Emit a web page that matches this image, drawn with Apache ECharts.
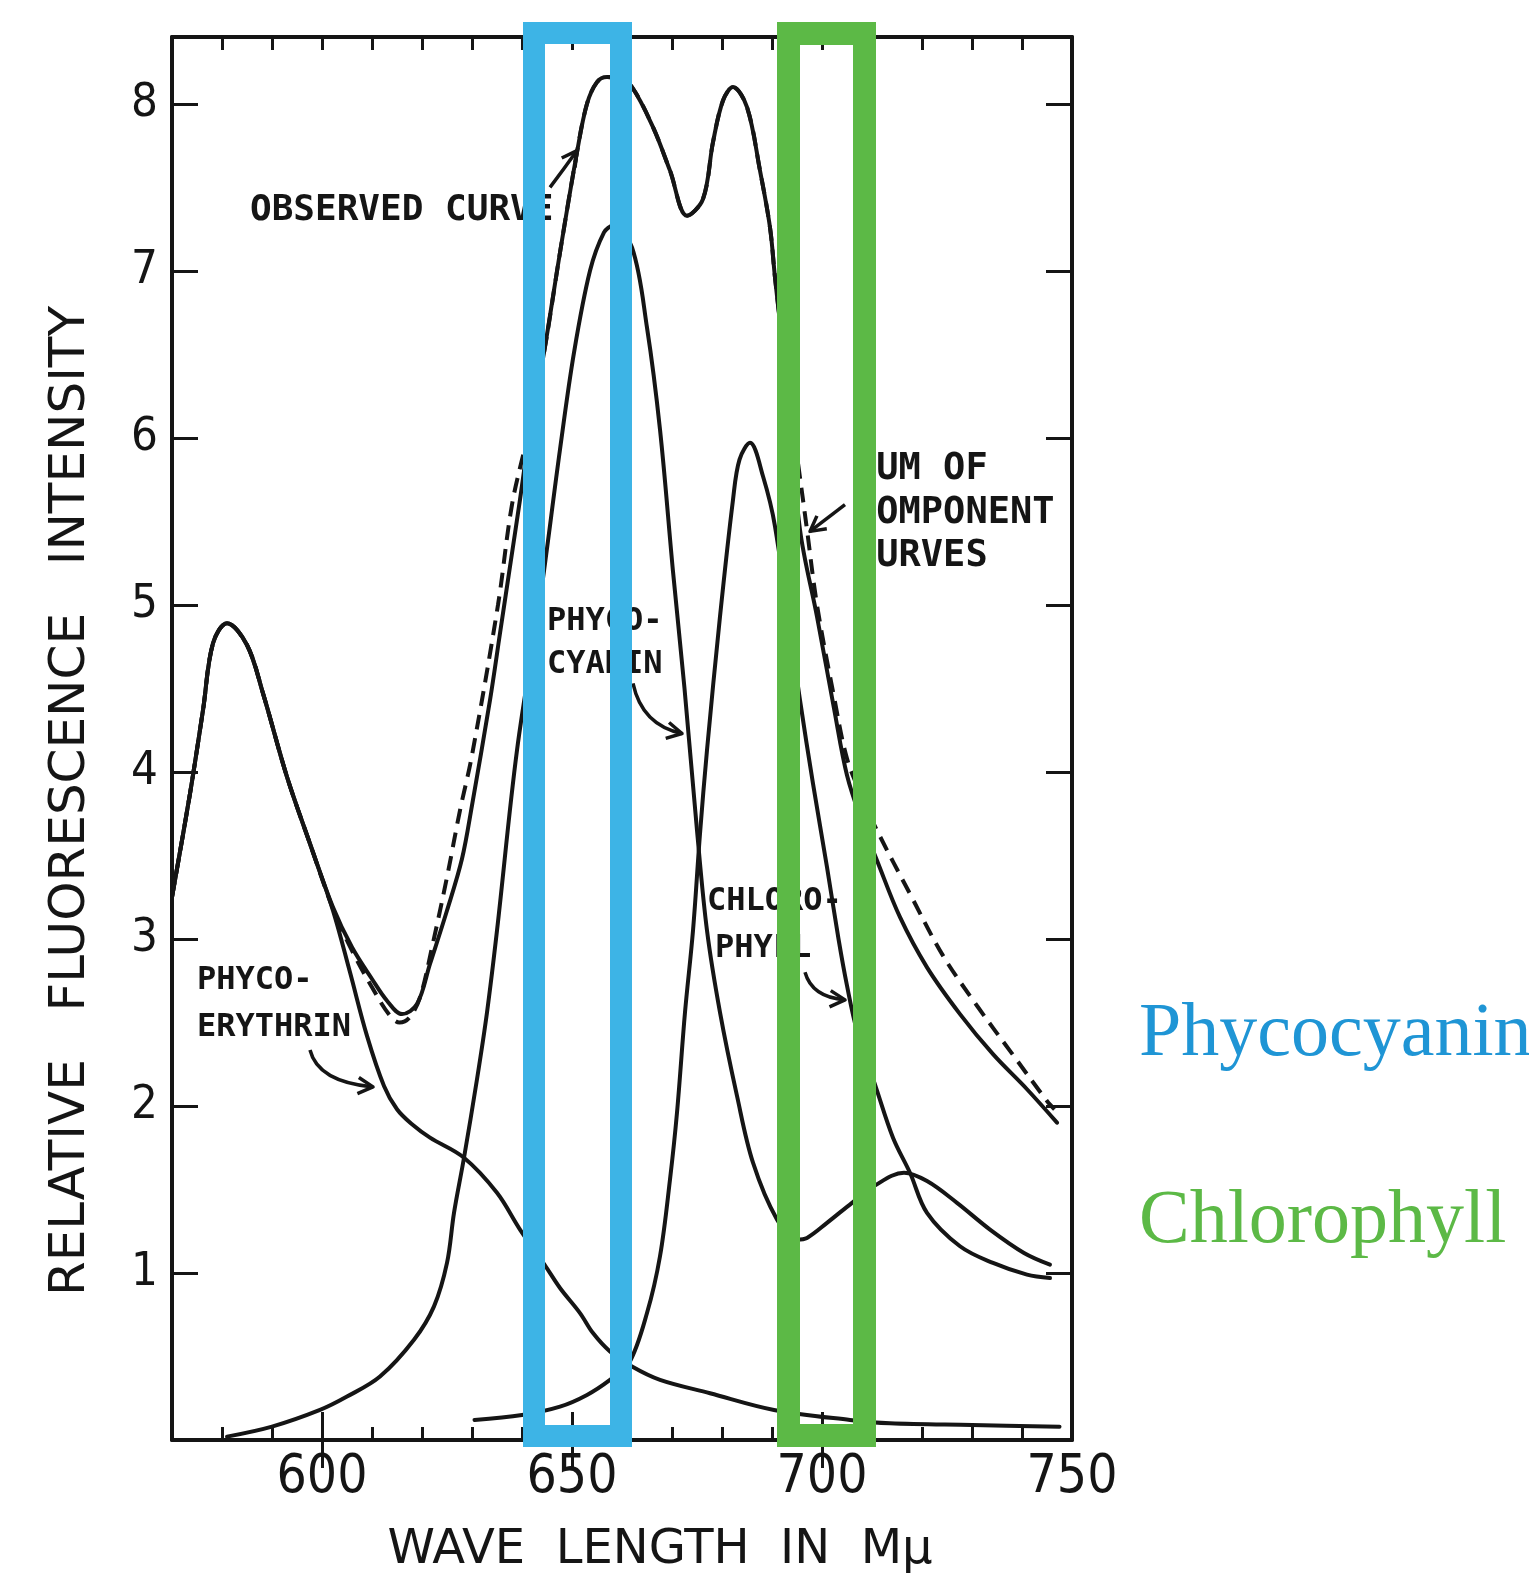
<!DOCTYPE html>
<html>
<head>
<meta charset="utf-8">
<script src="https://cdn.jsdelivr.net/npm/echarts@6/dist/echarts.min.js"></script>
<style>
html,body{margin:0;padding:0;background:#ffffff;}
#chart{width:1529px;height:1585px;}
</style>
</head>
<body>
<div id="chart"></div>
<script>
// ---------------- data ----------------
const xTickLabels = [600, 650, 700, 750];
const yTickLabels = [1, 2, 3, 4, 5, 6, 7, 8];

const observedNm = [570, 573.6, 576.2, 578.2, 581, 585, 588.2, 593, 597.6, 602.2, 606, 610, 613, 616, 619, 621.6, 625, 628, 630, 633.6, 635.6, 637.6, 639.6, 641.7, 644.4, 647.6, 651, 653, 655, 657, 659.5, 662, 666.2, 669.6, 673, 676.2, 678.2, 680.2, 682.2, 685, 687.6, 689.6, 690.6, 693, 695.6, 699, 702.4, 705, 708, 711, 715.6, 721, 727.6, 734.2, 741, 747];
const observedI  = [3.25, 3.87, 4.37, 4.77, 4.89, 4.76, 4.47, 3.97, 3.57, 3.19, 2.95, 2.76, 2.63, 2.55, 2.61, 2.85, 3.17, 3.48, 3.8, 4.43, 4.83, 5.23, 5.63, 6.07, 6.51, 7.11, 7.71, 8.0, 8.13, 8.16, 8.15, 8.10, 7.86, 7.60, 7.33, 7.43, 7.77, 8.02, 8.10, 7.98, 7.60, 7.26, 6.96, 6.3, 5.45, 4.93, 4.38, 3.98, 3.7, 3.47, 3.13, 2.83, 2.55, 2.31, 2.10, 1.90];

const sumNm = [570, 573.6, 576.2, 578.2, 581, 585, 588.2, 593, 597.6, 602.2, 606, 610, 613.6, 615.5, 617.5, 619.6, 622, 625, 627.6, 630, 635.2, 638, 641, 644.4, 647.6, 651, 653, 655, 657, 659.5, 662, 666.2, 669.6, 673, 676.2, 678.2, 680.2, 682.2, 685, 687.6, 689.6, 690.6, 693, 697, 699, 702.4, 705, 708, 711, 717.6, 724.2, 731, 737.6, 745, 746.5];
const sumI  = [3.25, 3.87, 4.37, 4.77, 4.89, 4.76, 4.47, 3.97, 3.57, 3.18, 2.93, 2.71, 2.54, 2.50, 2.53, 2.65, 2.95, 3.37, 3.77, 4.1, 5.0, 5.6, 6.0, 6.51, 7.11, 7.71, 8.0, 8.13, 8.16, 8.15, 8.10, 7.86, 7.60, 7.33, 7.43, 7.77, 8.02, 8.10, 7.98, 7.60, 7.26, 6.96, 6.35, 5.45, 5.0, 4.45, 4.08, 3.85, 3.65, 3.27, 2.90, 2.60, 2.33, 2.03, 1.98];

const phycoerythrinNm = [570, 573.6, 576.2, 578.2, 581, 585, 588.2, 593, 597.6, 602.2, 605.6, 609, 612.4, 615, 618, 621.6, 628.4, 635, 639.6, 644.5, 647.6, 651.6, 654.2, 657.6, 662, 667.6, 677.6, 690.4, 705.6, 713.6, 730, 747.5];
const phycoerythrinI  = [3.25, 3.87, 4.37, 4.77, 4.89, 4.76, 4.47, 3.97, 3.57, 3.17, 2.80, 2.42, 2.12, 1.98, 1.89, 1.81, 1.69, 1.48, 1.26, 1.05, 0.91, 0.76, 0.64, 0.53, 0.44, 0.36, 0.28, 0.18, 0.12, 0.10, 0.09, 0.08];

const phycocyaninNm = [581, 590, 599.6, 605, 611.6, 618.4, 622.4, 625, 626.4, 628.4, 631, 633, 635, 639, 643.6, 647.6, 650.4, 653.6, 656.4, 658.2, 662, 665, 667.6, 670.2, 672.5, 675, 677, 679.6, 683, 686.2, 691, 695, 697, 701, 706, 710.4, 716.4, 721, 727, 733.6, 740.4, 745.6];
const phycocyaninI  = [0.02, 0.08, 0.18, 0.26, 0.38, 0.60, 0.80, 1.06, 1.36, 1.69, 2.16, 2.56, 3.05, 4.13, 5.03, 5.93, 6.51, 7.0, 7.23, 7.27, 7.14, 6.66, 6.05, 5.2, 4.5, 3.65, 3.05, 2.56, 2.06, 1.66, 1.32, 1.2, 1.21, 1.30, 1.42, 1.52, 1.60, 1.55, 1.42, 1.26, 1.12, 1.05];

const chlorophyllNm = [630.5, 640, 647.6, 653, 657.6, 661.4, 665, 667.6, 669.6, 671, 672.6, 674.2, 675.6, 677, 679.6, 682.2, 683.5, 685.6, 688.2, 690.6, 695.6, 698.2, 701, 703.3, 705, 707, 710.8, 714.2, 717.6, 721, 727.6, 734.2, 741, 745.6];
const chlorophyllI  = [0.12, 0.15, 0.20, 0.27, 0.36, 0.46, 0.76, 1.10, 1.56, 1.96, 2.56, 3.05, 3.63, 4.13, 4.93, 5.63, 5.87, 5.97, 5.77, 5.47, 4.43, 3.93, 3.43, 3.0, 2.72, 2.45, 2.11, 1.81, 1.60, 1.36, 1.16, 1.06, 0.99, 0.97];

// highlighted wavelength bands (outer edges, nm)
const phycocyaninBand = [640.2, 662.0];
const chlorophyllBand = [691.0, 710.8];

// ---------------- chart ----------------
const X_MIN = 570, X_MAX = 750, Y_MIN = 0, Y_MAX = 8.4;
const GRID = { left: 172, right: 457, top: 37, bottom: 145 };
const INK = '#151515';
const TICK_FONT = "'DejaVu Sans Condensed','Liberation Sans Narrow','DejaVu Sans',sans-serif";
const LABEL_FONT = "'DejaVu Sans Mono',monospace";
const TITLE_FONT = "'DejaVu Sans',sans-serif";
const BLUE_BOX = '#3db4e6', GREEN_BOX = '#5cb946';
const BLUE_TEXT = '#1f95d5', GREEN_TEXT = '#5cb946';

const chart = echarts.init(document.getElementById('chart'), null, { renderer: 'canvas' });

function pairs(xs, ys) { return xs.map((x, i) => [x, ys[i]]); }

const minorTickVals = [];
for (let v = X_MIN + 10; v < X_MAX; v += 10) minorTickVals.push(v);
const majorTickVals = xTickLabels.filter(v => v < X_MAX);

function xAxisDef(position, len, ticks, withLine, withLabels) {
  return {
    type: 'value', position: position, min: X_MIN, max: X_MAX, interval: 10,
    splitLine: { show: false },
    axisLine: withLine ? { show: true, onZero: false, lineStyle: { color: INK, width: 4 } } : { show: false },
    axisTick: { show: true, inside: true, length: len, customValues: ticks, lineStyle: { color: INK, width: 3 } },
    axisLabel: withLabels ? {
      show: true, customValues: xTickLabels, margin: 12, color: INK, fontSize: 53, fontFamily: TICK_FONT,
      formatter: v => (xTickLabels.indexOf(v) >= 0 ? String(v) : '')
    } : { show: false }
  };
}
function yAxisDef(position, withLabels) {
  return {
    type: 'value', position: position, min: Y_MIN, max: Y_MAX, interval: 1,
    splitLine: { show: false },
    axisLine: { show: true, onZero: false, lineStyle: { color: INK, width: 4 } },
    axisTick: { show: true, inside: true, length: 26, customValues: yTickLabels, lineStyle: { color: INK, width: 3 } },
    axisLabel: withLabels ? {
      show: true, customValues: yTickLabels, margin: 14, color: INK, fontSize: 47, fontFamily: TICK_FONT,
      formatter: v => (yTickLabels.indexOf(v) >= 0 ? String(v) : '')
    } : { show: false }
  };
}

const lineBase = {
  type: 'line', xAxisIndex: 0, yAxisIndex: 0, showSymbol: false, symbol: 'none',
  smooth: 0.35, silent: true, clip: true
};
const solid = { color: INK, width: 4, cap: 'round', join: 'round' };

chart.setOption({
  animation: false,
  backgroundColor: '#ffffff',
  grid: Object.assign({ containLabel: false }, GRID),
  xAxis: [
    xAxisDef('bottom', 13, minorTickVals, true, true),
    xAxisDef('bottom', 28, majorTickVals, false, false),
    xAxisDef('top', 13, minorTickVals, true, false),
    xAxisDef('top', 28, majorTickVals, false, false)
  ],
  yAxis: [yAxisDef('left', true), yAxisDef('right', false)],
  series: [
    Object.assign({}, lineBase, { name: 'Phycoerythrin', data: pairs(phycoerythrinNm, phycoerythrinI), lineStyle: solid }),
    Object.assign({}, lineBase, { name: 'Phycocyanin', data: pairs(phycocyaninNm, phycocyaninI), lineStyle: solid }),
    Object.assign({}, lineBase, { name: 'Chlorophyll', data: pairs(chlorophyllNm, chlorophyllI), lineStyle: solid }),
    Object.assign({}, lineBase, { name: 'Observed curve', data: pairs(observedNm, observedI), lineStyle: solid }),
    Object.assign({}, lineBase, { name: 'Sum of component curves', data: pairs(sumNm, sumI), lineStyle: { color: INK, width: 4, type: [15, 9] } })
  ]
});

// ---------------- annotations ----------------
const P = (x, y) => chart.convertToPixel({ gridIndex: 0 }, [x, y]);
const plotTop = GRID.top, plotBottom = 1585 - GRID.bottom;

function text(str, xy, font, color, align, extra) {
  return Object.assign({
    type: 'text', x: xy[0], y: xy[1], z: 50, silent: true,
    style: { text: str, font: font, fill: color, align: align || 'left', verticalAlign: 'middle',
             textAlign: align || 'left', textVerticalAlign: 'middle' }
  }, extra || {});
}
function arrow(tail, ctrl, head) {
  const t = P(tail[0], tail[1]), c = P(ctrl[0], ctrl[1]), h = P(head[0], head[1]);
  const ang = Math.atan2(h[1] - c[1], h[0] - c[0]);
  const L = 17, a = 0.5;
  const p1 = [h[0] - L * Math.cos(ang - a), h[1] - L * Math.sin(ang - a)];
  const p2 = [h[0] - L * Math.cos(ang + a), h[1] - L * Math.sin(ang + a)];
  return [
    { type: 'bezierCurve', z: 50, silent: true, shape: { x1: t[0], y1: t[1], x2: h[0], y2: h[1], cpx1: c[0], cpy1: c[1] },
      style: { stroke: INK, lineWidth: 3.5, fill: 'none' } },
    { type: 'polyline', z: 50, silent: true, shape: { points: [p1, h, p2] },
      style: { stroke: INK, lineWidth: 3.5, fill: 'none', lineJoin: 'round' } }
  ];
}
function band(range, color, w) {
  const xl = P(range[0], 0)[0] + w / 2, xr = P(range[1], 0)[0] - w / 2;
  const yt = plotTop - 15 + w / 2, yb = plotBottom + 7 - w / 2;
  return { type: 'rect', z: 100, silent: true, shape: { x: xl, y: yt, width: xr - xl, height: yb - yt },
           style: { fill: 'none', stroke: color, lineWidth: w } };
}

const f36 = `bold 36px ${LABEL_FONT}`;
const f37 = `bold 37px ${LABEL_FONT}`;
const f32 = `bold 32px ${LABEL_FONT}`;
const fYTitle = `50px ${TITLE_FONT}`;
const fXTitle = `48px ${TITLE_FONT}`;
const fSerif = `76px 'Liberation Serif','DejaVu Serif',serif`;

const graphics = [].concat(
  [
    text('OBSERVED CURVE', P(585.6, 7.36), f36, INK),
    text('PHYCO-', P(645.0, 4.90), f32, INK),
    text('CYANIN', P(645.0, 4.64), f32, INK),
    text('SUM OF', P(706.4, 5.81), f37, INK),
    text('COMPONENT', P(706.4, 5.55), f37, INK),
    text('CURVES', P(706.4, 5.29), f37, INK),
    text('PHYCO-', P(575.0, 2.75), f32, INK),
    text('ERYTHRIN', P(575.0, 2.47), f32, INK),
    text('CHLORO-', P(677.0, 3.22), f32, INK),
    text('PHYLL', P(678.6, 2.94), f32, INK),
    text('WAVE  LENGTH  IN  Mμ', [660, 1551], fXTitle, INK, 'center'),
    text('RELATIVE   FLUORESCENCE   INTENSITY', [71, 801], fYTitle, INK, 'center', { rotation: Math.PI / 2 }),
    text('Phycocyanin', [1139, 1035], fSerif, BLUE_TEXT),
    text('Chlorophyll', [1139, 1222], fSerif, GREEN_TEXT)
  ],
  arrow([645.6, 7.50], [648.4, 7.61], [651.0, 7.72]),
  arrow([662.2, 4.53], [664.0, 4.28], [672.0, 4.23]),
  arrow([704.6, 5.60], [701.1, 5.52], [697.6, 5.44]),
  arrow([597.6, 2.335], [599.2, 2.144], [610.2, 2.114]),
  arrow([696.6, 2.80], [698.0, 2.65], [704.6, 2.635]),
  [band(phycocyaninBand, BLUE_BOX, 22), band(chlorophyllBand, GREEN_BOX, 23)]
);

chart.setOption({ graphic: graphics });
</script>
</body>
</html>
